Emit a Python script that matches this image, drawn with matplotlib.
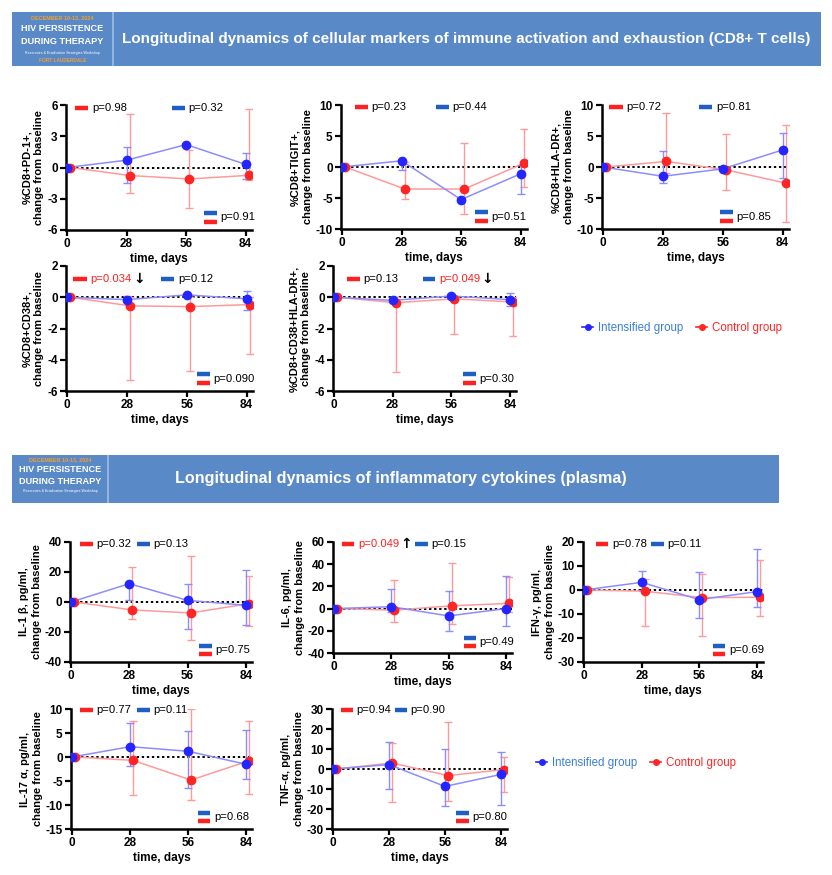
import matplotlib
matplotlib.use("Agg")
import matplotlib.pyplot as plt
from matplotlib.lines import Line2D
from matplotlib.patches import Rectangle
import numpy as np

plt.rcParams['font.family'] = ['Liberation Sans', 'DejaVu Sans']
plt.rcParams['axes.unicode_minus'] = False

W, H = 832, 875

# ---------------- data ----------------
days = [0, 28, 56, 84]
xtick_labels = ["0", "28", "56", "84"]

pd1_int = [0, 0.7, 2.2, 0.3]
pd1_int_lo = [0, -1.45, 2.2, -1.15]
pd1_int_hi = [0, 2.0, 2.2, 1.4]
pd1_ctl = [0, -0.77, -1.1, -0.75]
pd1_ctl_lo = [0, -2.45, -3.85, -1.2]
pd1_ctl_hi = [0, 5.1, 1.7, 5.6]

tigit_int = [0, 1.0, -5.25, -1.1]
tigit_int_lo = [0, -0.45, -5.25, -4.3]
tigit_int_hi = [0, 1.0, -5.25, 0.3]
tigit_ctl = [0, -3.55, -3.55, 0.6]
tigit_ctl_lo = [0, -5.15, -7.65, -3.3]
tigit_ctl_hi = [0, 0.8, 3.85, 6.15]

hla_int = [0, -1.5, -0.3, 2.75]
hla_int_lo = [0, -2.6, -0.3, -1.8]
hla_int_hi = [0, 2.6, -0.3, 5.55]
hla_ctl = [0, 0.9, -0.45, -2.6]
hla_ctl_lo = [0, -1.0, -3.65, -8.85]
hla_ctl_hi = [0, 8.7, 5.3, 6.8]

cd38_int = [0, -0.15, 0.15, -0.1]
cd38_int_lo = [0, -0.3, 0.1, -0.8]
cd38_int_hi = [0, 0.05, 0.2, 0.4]
cd38_ctl = [0, -0.55, -0.6, -0.47]
cd38_ctl_lo = [0, -5.3, -4.75, -3.65]
cd38_ctl_hi = [0, 0.0, 0.0, 0.0]

dp_int = [0, -0.2, 0.08, -0.15]
dp_int_lo = [0, -0.35, 0.0, -0.57]
dp_int_hi = [0, 0.0, 0.12, 0.28]
dp_ctl = [0, -0.35, -0.1, -0.3]
dp_ctl_lo = [0, -4.8, -2.35, -2.48]
dp_ctl_hi = [0, 0.0, 0.0, 0.0]

il1b_int = [0, 12.2, 1.1, -2.2]
il1b_int_lo = [0, 1.6, -17.8, -15.1]
il1b_int_hi = [0, 12.2, 12.2, 21.6]
il1b_ctl = [0, -5.3, -7.3, -1.1]
il1b_ctl_lo = [0, -11.6, -25.2, -15.8]
il1b_ctl_hi = [0, 23.4, 30.7, 17.4]

il6_int = [0, 1.7, -6.6, 0.0]
il6_int_lo = [0, -3.3, -20.4, -16.0]
il6_int_hi = [0, 17.6, 15.5, 29.8]
il6_ctl = [0, -1.4, 2.5, 4.7]
il6_ctl_lo = [0, -12.0, -14.3, -2.8]
il6_ctl_hi = [0, 26.0, 41.5, 28.5]

ifn_int = [0, 3.2, -4.0, -0.7]
ifn_int_lo = [0, 0.0, -11.7, -6.9]
ifn_int_hi = [0, 7.9, 7.4, 17.1]
ifn_ctl = [0, -0.5, -3.2, -3.0]
ifn_ctl_lo = [0, -14.9, -19.3, -10.7]
ifn_ctl_hi = [0, 4.7, 6.8, 12.6]

il17_int = [0, 2.15, 1.2, -1.5]
il17_int_lo = [0, -1.95, -6.45, -4.6]
il17_int_hi = [0, 7.1, 5.35, 5.7]
il17_ctl = [0, -0.7, -4.8, -0.8]
il17_ctl_lo = [0, -7.9, -8.95, -7.65]
il17_ctl_hi = [0, 7.6, 9.9, 7.45]

tnf_int = [0, 2.2, -8.7, -2.7]
tnf_int_lo = [0, -9.8, -18.3, -18.0]
tnf_int_hi = [0, 13.3, 10.0, 8.7]
tnf_ctl = [0, 3.0, -3.3, -0.3]
tnf_ctl_lo = [0, -16.3, -15.8, -11.3]
tnf_ctl_hi = [0, 13.2, 23.7, 5.8]

ylabels = ["%CD8+PD-1+,\nchange from baseline",
           "%CD8+TIGIT+,\nchange from baseline",
           "%CD8+HLA-DR+,\nchange from baseline",
           "%CD8+CD38+,\nchange from baseline",
           "%CD8+CD38+HLA-DR+,\nchange from baseline",
           "IL-1 β, pg/ml,\nchange from baseline",
           "IL-6, pg/ml,\nchange from baseline",
           "IFN-γ, pg/ml,\nchange from baseline",
           "IL-17 α, pg/ml,\nchange from baseline",
           "TNF-α, pg/ml,\nchange from baseline"]

p_ctl = ["p=0.98", "p=0.23", "p=0.72", "p=0.034", "p=0.13",
         "p=0.32", "p=0.049", "p=0.78", "p=0.77", "p=0.94"]
p_int = ["p=0.32", "p=0.44", "p=0.81", "p=0.12", "p=0.049",
         "p=0.13", "p=0.15", "p=0.11", "p=0.11", "p=0.90"]
p_between = ["p=0.91", "p=0.51", "p=0.85", "p=0.090", "p=0.30",
             "p=0.75", "p=0.49", "p=0.69", "p=0.68", "p=0.80"]

ylims = [(-6, 6), (-10, 10), (-10, 10), (-6, 2), (-6, 2),
         (-40, 40), (-40, 60), (-30, 20), (-15, 10), (-30, 30)]
yticks = [[-6, -3, 0, 3, 6], [-10, -5, 0, 5, 10], [-10, -5, 0, 5, 10],
          [-6, -4, -2, 0, 2], [-6, -4, -2, 0, 2],
          [-40, -20, 0, 20, 40], [-40, -20, 0, 20, 40, 60],
          [-30, -20, -10, 0, 10, 20], [-15, -10, -5, 0, 5, 10],
          [-30, -20, -10, 0, 10, 20, 30]]

series = [
    (pd1_int, pd1_int_lo, pd1_int_hi, pd1_ctl, pd1_ctl_lo, pd1_ctl_hi),
    (tigit_int, tigit_int_lo, tigit_int_hi, tigit_ctl, tigit_ctl_lo, tigit_ctl_hi),
    (hla_int, hla_int_lo, hla_int_hi, hla_ctl, hla_ctl_lo, hla_ctl_hi),
    (cd38_int, cd38_int_lo, cd38_int_hi, cd38_ctl, cd38_ctl_lo, cd38_ctl_hi),
    (dp_int, dp_int_lo, dp_int_hi, dp_ctl, dp_ctl_lo, dp_ctl_hi),
    (il1b_int, il1b_int_lo, il1b_int_hi, il1b_ctl, il1b_ctl_lo, il1b_ctl_hi),
    (il6_int, il6_int_lo, il6_int_hi, il6_ctl, il6_ctl_lo, il6_ctl_hi),
    (ifn_int, ifn_int_lo, ifn_int_hi, ifn_ctl, ifn_ctl_lo, ifn_ctl_hi),
    (il17_int, il17_int_lo, il17_int_hi, il17_ctl, il17_ctl_lo, il17_ctl_hi),
    (tnf_int, tnf_int_lo, tnf_int_hi, tnf_ctl, tnf_ctl_lo, tnf_ctl_hi),
]

# significance markers: panel -> (which label is red, arrow)
sig = {3: ("ctl", "↓"), 4: ("int", "↓"), 6: ("ctl", "↑")}

# ---------------- layout (pixels: left, top, right, bottom) ----------------
boxes = [(66, 105, 252, 230), (341, 105, 527, 229), (602, 105, 789, 229),
         (66, 266, 253, 391), (333, 266, 516, 391),
         (70, 542, 252, 662), (333, 542, 512, 653), (583, 542, 763, 662),
         (71, 709, 252, 829), (332, 709, 507, 829)]
# annotation positions (axes fraction)
red_dash_x = [0.05, 0.075, 0.04, 0.04, 0.075, 0.055, 0.05, 0.07, 0.05, 0.05]
blue_dash_x = [0.57, 0.51, 0.52, 0.51, 0.49, 0.37, 0.46, 0.38, 0.365, 0.36]
bot_dash_x = [0.74, 0.72, 0.63, 0.70, 0.71, 0.71, 0.73, 0.72, 0.70, 0.71]
top_y = [0.98, 0.98, 0.98, 0.90, 0.90, 0.98, 0.98, 0.98, 0.995, 0.995]

C_INT = '#2525ff'
C_INT_L = '#8c8cff'
C_CTL = '#ff2525'
C_CTL_L = '#ff9a9a'
C_DASH_B = '#1f5fc4'
C_DASH_R = '#ff2020'
BANNER = '#5a89c8'
PFS = 8.1

fig = plt.figure(figsize=(W / 100, H / 100), dpi=100)


def rect(l, t, r, b):
    return [l / W, 1 - b / H, (r - l) / W, (b - t) / H]


def draw_banner(l, t, r, b, logo_r, title, tx, tsize, full_logo=True):
    ax = fig.add_axes(rect(l, t, r, b))
    ax.set_xlim(l, r)
    ax.set_ylim(b, t)
    ax.axis('off')
    ax.add_patch(Rectangle((l, t), r - l, b - t, color=BANNER, zorder=0))
    ax.plot([logo_r, logo_r], [t, b], color='#9fbde6', lw=1.2)
    cx = (l + logo_r) / 2
    h = b - t
    ax.text(cx, t + h * 0.10, "DECEMBER 10-13, 2024", color='#f0a030',
            fontsize=4.0, fontweight='bold', ha='center', va='center')
    ax.text(cx, t + h * 0.31, "HIV PERSISTENCE", color='white',
            fontsize=6.6, fontweight='bold', ha='center', va='center')
    ax.text(cx, t + h * 0.55, "DURING THERAPY", color='white',
            fontsize=6.6, fontweight='bold', ha='center', va='center')
    ax.text(cx, t + h * 0.76, "Reservoirs & Eradication Strategies Workshop",
            color='white', fontsize=2.6, ha='center', va='center')
    if full_logo:
        ax.text(cx, t + h * 0.90, "FORT LAUDERDALE", color='#f0a030',
                fontsize=3.4, fontweight='bold', ha='center', va='center')
    ax.text(tx, (t + b) / 2, title, color='white', fontsize=tsize,
            fontweight='bold', ha='center', va='center')


draw_banner(12, 12, 821, 66, 113,
            "Longitudinal dynamics of cellular markers of immune activation and exhaustion (CD8+ T cells)",
            466, 11.0)
draw_banner(12, 455, 779, 503, 108,
            "Longitudinal dynamics of inflammatory cytokines (plasma)", 401, 11.6,
            full_logo=False)

OFF = 1.5  # horizontal nudge of control group points (days)

for i, (box, data) in enumerate(zip(boxes, series)):
    ax = fig.add_axes(rect(*box))
    bi, bl, bh, ci, cl, ch = [np.asarray(d, float) for d in data]
    x = np.asarray(days, float)
    xc = x + OFF
    ax.axhline(0, color='black', ls=(0, (1.2, 1.4)), lw=1.4, zorder=1)
    # control
    ax.errorbar(xc, ci, yerr=[ci - cl, ch - ci], fmt='none', ecolor=C_CTL_L,
                elinewidth=1.0, capsize=3, capthick=1.0, zorder=2)
    ax.plot(xc, ci, color=C_CTL_L, lw=1.1, zorder=2)
    ax.plot(xc, ci, 'o', color=C_CTL, ms=6, zorder=4)
    # intensified
    ax.errorbar(x, bi, yerr=[bi - bl, bh - bi], fmt='none', ecolor=C_INT_L,
                elinewidth=1.0, capsize=3, capthick=1.0, zorder=3)
    ax.plot(x, bi, color=C_INT_L, lw=1.1, zorder=3)
    ax.plot(x, bi, 'o', color=C_INT, ms=6, zorder=5)

    ax.set_xlim(-0.5, 87)
    ax.set_ylim(*ylims[i])
    ax.set_xticks(days)
    ax.set_xticklabels(xtick_labels)
    ax.set_yticks(yticks[i])
    for s in ['top', 'right']:
        ax.spines[s].set_visible(False)
    for s in ['left', 'bottom']:
        ax.spines[s].set_linewidth(1.8)
    ax.tick_params(width=1.6, length=4, labelsize=8.5, pad=2)
    for lab in ax.get_xticklabels() + ax.get_yticklabels():
        lab.set_fontweight('bold')
    ax.set_xlabel("time, days", fontsize=8.5, fontweight='bold', labelpad=2)
    ax.set_ylabel(ylabels[i], fontsize=8, fontweight='bold', labelpad=2,
                  linespacing=1.3)

    # p-value annotations
    rx, bx_, bot_x = red_dash_x[i], blue_dash_x[i], bot_dash_x[i]
    dl = 0.07
    ty = top_y[i]
    s, arr = sig.get(i, (None, None))
    ax.plot([rx, rx + dl], [ty, ty], transform=ax.transAxes, color=C_DASH_R,
            lw=3.2, solid_capstyle='butt', clip_on=False)
    t1 = ax.text(rx + dl + 0.02, ty, p_ctl[i], transform=ax.transAxes,
                 fontsize=PFS, va='center', ha='left',
                 color=C_DASH_R if s == "ctl" else 'black')
    ax.plot([bx_, bx_ + dl], [ty, ty], transform=ax.transAxes, color=C_DASH_B,
            lw=3.2, solid_capstyle='butt', clip_on=False)
    t2 = ax.text(bx_ + dl + 0.02, ty, p_int[i], transform=ax.transAxes,
                 fontsize=PFS, va='center', ha='left',
                 color=C_DASH_R if s == "int" else 'black')
    if s is not None:
        tt = t1 if s == "ctl" else t2
        fig.canvas.draw()
        bb = tt.get_window_extent().transformed(ax.transAxes.inverted())
        ax.text(bb.x1 + 0.008, ty, arr, transform=ax.transAxes, fontsize=10,
                fontweight='bold', va='center', ha='left', color='black',
                family=['DejaVu Sans'])
    ax.plot([bot_x, bot_x + dl], [0.137, 0.137], transform=ax.transAxes,
            color=C_DASH_B, lw=3.2, solid_capstyle='butt', clip_on=False)
    ax.plot([bot_x, bot_x + dl], [0.067, 0.067], transform=ax.transAxes,
            color=C_DASH_R, lw=3.2, solid_capstyle='butt', clip_on=False)
    ax.text(bot_x + dl + 0.02, 0.10, p_between[i], transform=ax.transAxes,
            fontsize=PFS, va='center', ha='left')

# legends
handles = [Line2D([0], [0], color=C_INT, marker='o', ms=4, lw=1.2),
           Line2D([0], [0], color=C_CTL, marker='o', ms=4, lw=1.2)]
labels = ["Intensified group", "Control group"]
for (cx, cy) in [(682, 328), (636, 763)]:
    leg = fig.legend(handles, labels, loc='center', ncol=2,
                     bbox_to_anchor=(cx / W, 1 - cy / H), frameon=False,
                     fontsize=8.3, handlelength=1.0, handletextpad=0.4,
                     columnspacing=1.1)
    for txt, c in zip(leg.get_texts(), ['#3a7ed6', C_CTL]):
        txt.set_color(c)

fig.savefig("out.png", dpi=100)
